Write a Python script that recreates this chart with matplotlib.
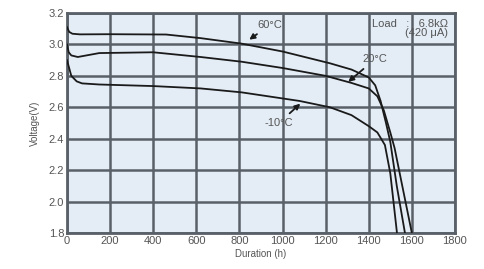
import matplotlib
matplotlib.use('Agg')
from matplotlib import pyplot as plt

plt.rcParams['font.family'] = ['Liberation Sans', 'DejaVu Sans']

# discharge curves: hours, volts
t_60 = [0, 10, 25, 60, 200, 460, 620, 810, 1000, 1220, 1320, 1400, 1430, 1455, 1480, 1500, 1530, 1568]
v_60 = [3.11, 3.08, 3.068, 3.064, 3.065, 3.063, 3.04, 3.005, 2.955, 2.88, 2.84, 2.79, 2.74, 2.64, 2.50, 2.38, 2.10, 1.80]

t_20 = [0, 8, 20, 50, 150, 400, 620, 810, 1000, 1200, 1320, 1400, 1440, 1470, 1500, 1520, 1560, 1600]
v_20 = [3.0, 2.95, 2.93, 2.92, 2.945, 2.95, 2.92, 2.89, 2.85, 2.80, 2.755, 2.72, 2.67, 2.58, 2.44, 2.34, 2.07, 1.80]

t_m10 = [0, 8, 20, 45, 70, 150, 400, 620, 810, 1080, 1220, 1320, 1400, 1440, 1475, 1500, 1531]
v_m10 = [2.9, 2.86, 2.80, 2.765, 2.752, 2.745, 2.735, 2.72, 2.695, 2.64, 2.60, 2.55, 2.48, 2.44, 2.36, 2.18, 1.80]

x_ticks = [0, 200, 400, 600, 800, 1000, 1200, 1400, 1600, 1800]
y_ticks = [1.8, 2.0, 2.2, 2.4, 2.6, 2.8, 3.0, 3.2]

grid_col = '#5a6068'
text_col = '#555555'

fig = plt.figure(figsize=(4.84, 2.69), dpi=100)
ax = fig.add_axes([0.1384, 0.1338, 0.8016, 0.8179])
ax.set_facecolor('#e4edf6')

for t, v in [(t_60, v_60), (t_20, v_20), (t_m10, v_m10)]:
    ax.plot(t, v, color='#1a1a1a', lw=1.3, zorder=3)

ax.set_xlim(0, 1800)
ax.set_ylim(1.8, 3.2)
ax.set_xticks(x_ticks)
ax.set_yticks(y_ticks)
ax.set_yticklabels([f'{y:.1f}' for y in y_ticks])
ax.grid(True, color=grid_col, lw=1.8, zorder=1)
ax.set_axisbelow(True)
ax.tick_params(length=0, labelsize=8, colors=text_col, pad=2)
for s in ax.spines.values():
    s.set_color(grid_col)
    s.set_linewidth(2)

ax.set_xlabel('Duration (h)', fontsize=7, color=text_col, labelpad=2)
ax.set_ylabel('Voltage(V)', fontsize=7, color=text_col, labelpad=6)

arrow = dict(arrowstyle='-|>', color='#1a1a1a', lw=1.3, mutation_scale=8)
ax.annotate('60°C', xy=(835, 3.02), xytext=(885, 3.125), fontsize=8,
            color=text_col, va='center', ha='left', arrowprops=arrow)
ax.annotate('20°C', xy=(1295, 2.75), xytext=(1370, 2.905), fontsize=8,
            color=text_col, va='center', ha='left', arrowprops=arrow)
ax.annotate('-10°C', xy=(1092, 2.635), xytext=(1050, 2.50), fontsize=8,
            color=text_col, va='center', ha='right', arrowprops=arrow)

ax.text(1770, 3.13, 'Load   :   6.8kΩ', fontsize=8, color=text_col,
        ha='right', va='center')
ax.text(1770, 3.072, '(420 μA)', fontsize=8, color=text_col,
        ha='right', va='center')

fig.savefig('out.png', dpi=100)
